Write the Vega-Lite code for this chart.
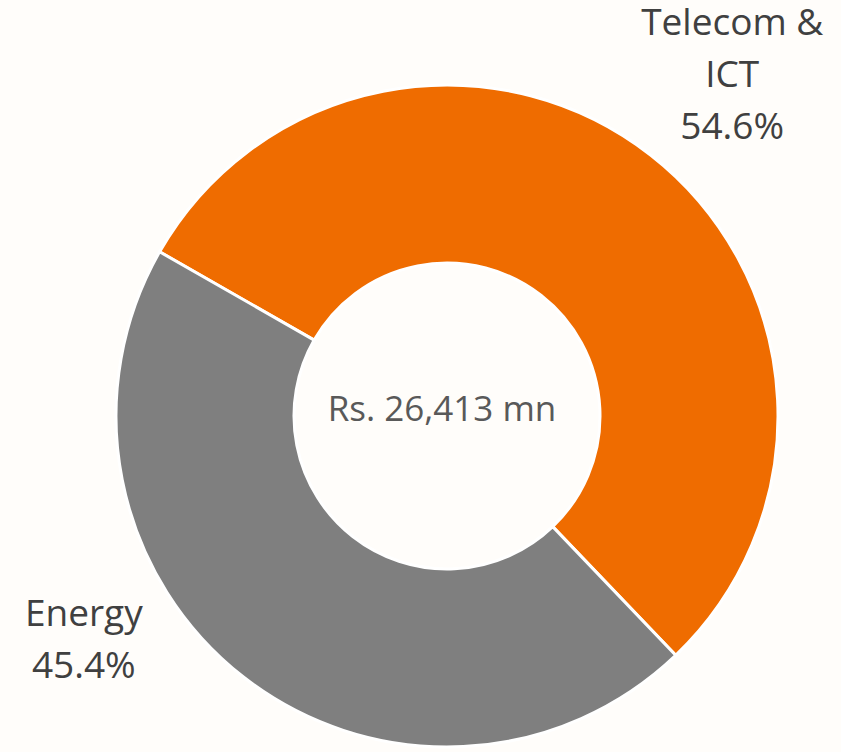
{
  "$schema": "https://vega.github.io/schema/vega-lite/v6.json",
  "autosize": {"type": "none"},
  "width": 788,
  "height": 672,
  "padding": {"left": 53, "top": 80, "right": 0, "bottom": 0},
  "background": "#FFFDFA",
  "config": {"view": {"stroke": null}},
  "data": {
    "values": [
      {"category": "Telecom & ICT", "label": "Telecom &\nICT", "share": 54.6},
      {"category": "Energy", "label": "Energy", "share": 45.4}
    ]
  },
  "transform": [
    {"calculate": "datum.label + '\\n' + format(datum.share, '.1f') + '%'", "as": "labelText"}
  ],
  "layer": [
    {
      "mark": {"type": "arc", "radius": 331, "radius2": 153, "stroke": "#FFFFFF", "strokeWidth": 3},
      "encoding": {
        "theta": {"field": "share", "type": "quantitative", "stack": true, "scale": {"range": [2.3789, 8.6621]}},
        "order": {"field": "category", "sort": "ascending"},
        "color": {
          "field": "category",
          "type": "nominal",
          "scale": {"domain": ["Telecom & ICT", "Energy"], "range": ["#EF6C00", "#7F7F7F"]},
          "legend": null
        }
      }
    },
    {
      "mark": {"type": "text", "radius": 450, "dx": 8, "dy": -37, "font": "Open Sans", "fontSize": 37, "lineHeight": 52, "lineBreak": "\n", "align": "center", "baseline": "middle", "color": "#404040"},
      "encoding": {
        "theta": {"field": "share", "type": "quantitative", "stack": true},
        "order": {"field": "category", "sort": "ascending"},
        "text": {"field": "labelText"},
        "opacity": {"condition": {"test": "datum.category === 'Telecom & ICT'", "value": 1}, "value": 0}
      }
    },
    {
      "mark": {"type": "text", "radius": 450, "dx": -86, "dy": -156, "font": "Open Sans", "fontSize": 37, "lineHeight": 52, "lineBreak": "\n", "align": "center", "baseline": "middle", "color": "#404040"},
      "encoding": {
        "theta": {"field": "share", "type": "quantitative", "stack": true},
        "order": {"field": "category", "sort": "ascending"},
        "text": {"field": "labelText"},
        "opacity": {"condition": {"test": "datum.category === 'Energy'", "value": 1}, "value": 0}
      }
    },
    {
      "data": {"values": [{"total": 26413}]},
      "transform": [{"calculate": "'Rs. ' + format(datum.total, ',') + ' mn'", "as": "centerText"}],
      "mark": {"type": "text", "font": "Open Sans", "fontSize": 35, "align": "center", "baseline": "middle", "color": "#595959", "dx": -5, "dy": -6},
      "encoding": {"text": {"field": "centerText"}}
    }
  ]
}
